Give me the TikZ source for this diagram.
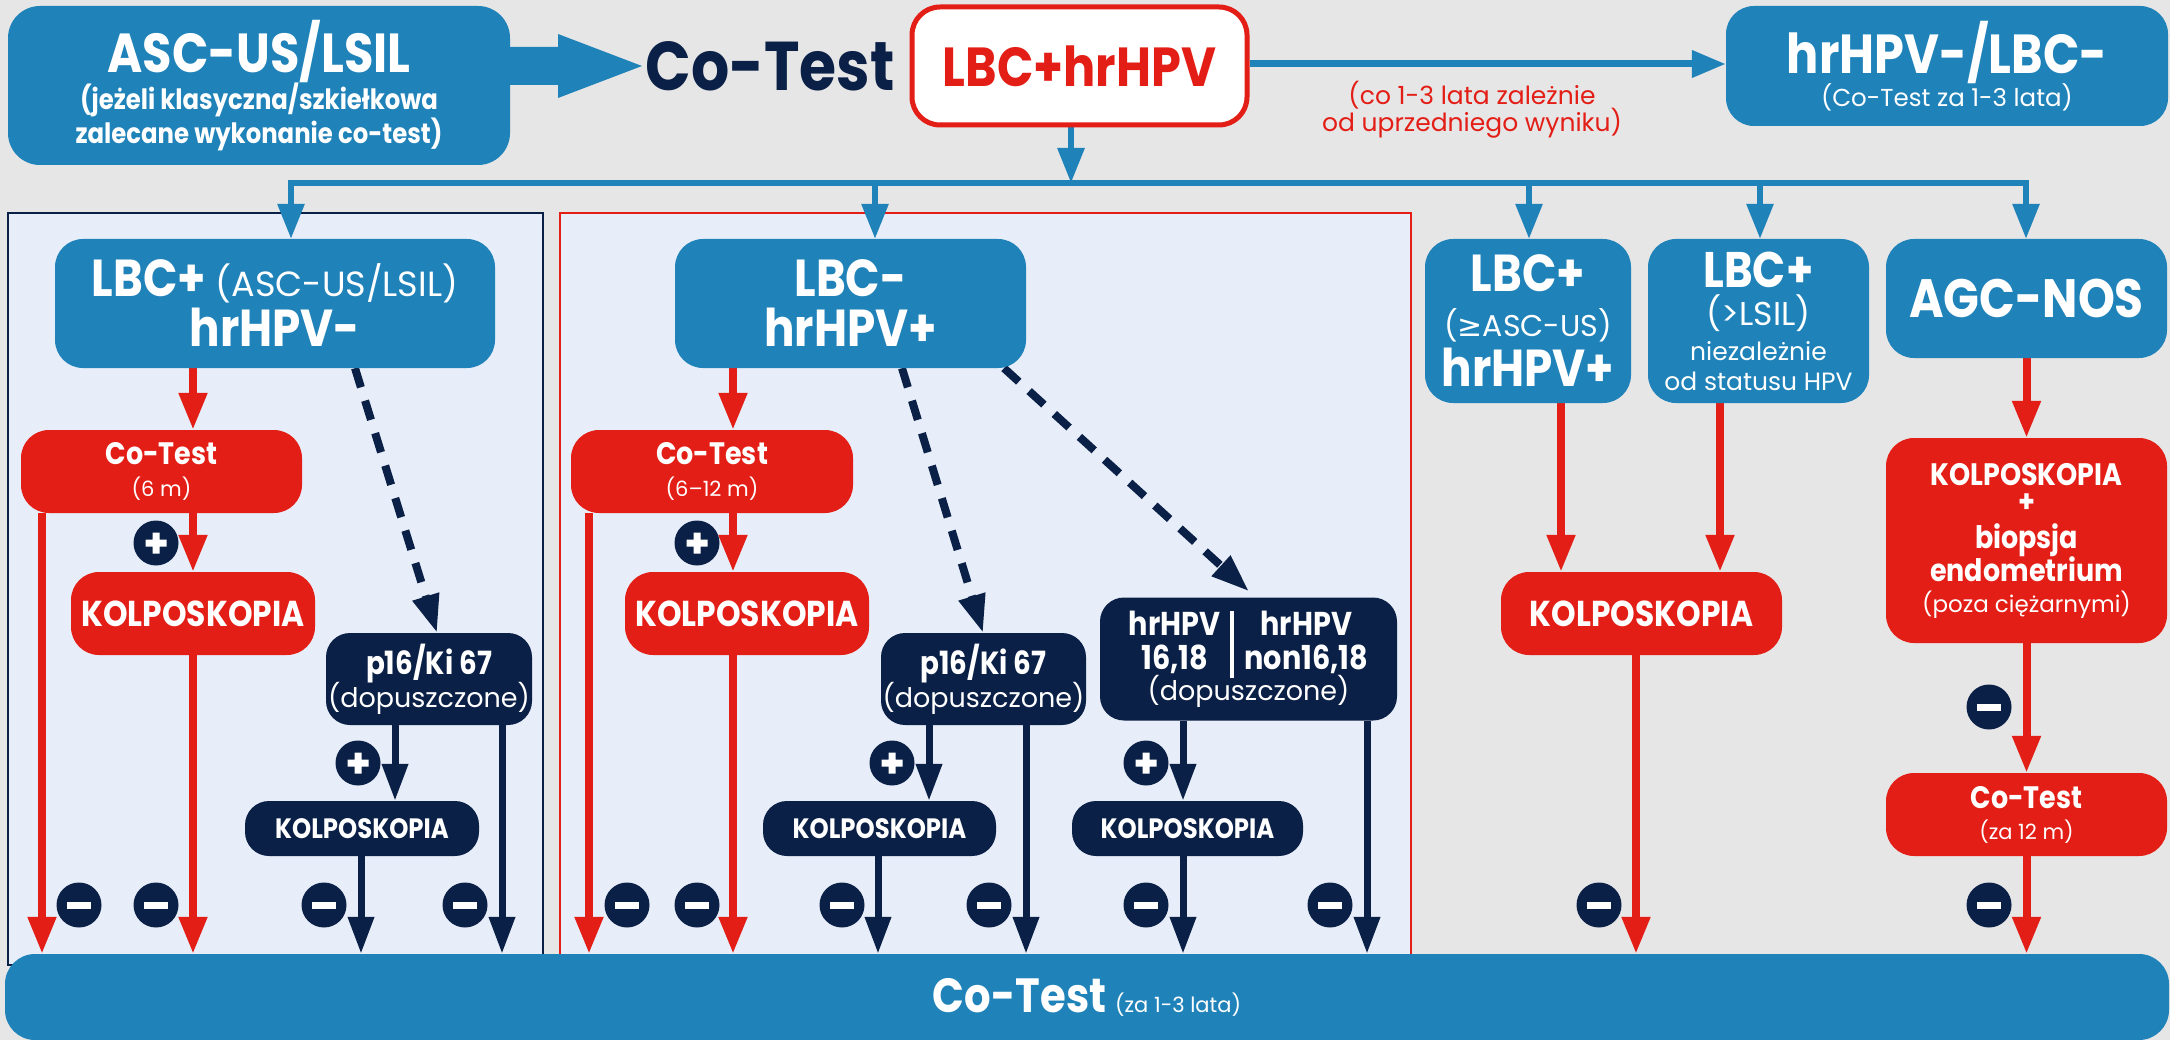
\documentclass[tikz,border=0pt]{standalone}
\usepackage{fontspec}
\setmainfont{Poppins}[FakeStretch=0.87]
\newfontfamily\lightf{Poppins}
\newfontfamily\symf{DejaVu Sans}
\usetikzlibrary{arrows.meta,calc}
\definecolor{cblue}{HTML}{1F82B9}
\definecolor{cred}{HTML}{E31E16}
\definecolor{cnavy}{HTML}{0B2046}
\definecolor{cbg}{HTML}{E6E6E6}
\definecolor{cpanel}{HTML}{E8EEF9}
\newcommand\myfs[2]{\fontsize{#1}{#2}\selectfont}
\newcommand\myl[1]{\lightf\mdseries\fontsize{#1}{#1}\selectfont}
\pgfdeclarelayer{back}
\pgfdeclarelayer{conn}
\pgfsetlayers{back,conn,main}
\begin{document}
\begin{tikzpicture}[x=1pt,y=-1pt,
  sz/.style 2 args={minimum width=#1, minimum height=#2},
  bx/.style={rounded corners=#1, inner sep=0pt, align=center, text=white},
  bx/.default=28pt,
  bluebox/.style={bx, fill=cblue},
  redbox/.style={bx, fill=cred},
  navybox/.style={bx=24pt, fill=cnavy},
  plusc/.style={circle, fill=cnavy, minimum size=45pt, inner sep=0pt,
    path picture={\fill[white] ($(path picture bounding box.center)+(-10.5,-3.5)$) rectangle ($(path picture bounding box.center)+(10.5,3.5)$)
      ($(path picture bounding box.center)+(-3.5,-10.5)$) rectangle ($(path picture bounding box.center)+(3.5,10.5)$);}},
  minusc/.style={circle, fill=cnavy, minimum size=45pt, inner sep=0pt,
    path picture={\fill[white] ($(path picture bounding box.center)+(-12,-3.5)$) rectangle ($(path picture bounding box.center)+(12,3.5)$);}},
  redarr/.style={draw=cred, line width=8pt, -{Triangle[length=37pt,width=27pt]}},
  navyarr/.style={draw=cnavy, line width=7pt, -{Triangle[length=37pt,width=25pt]}},
  bluearr/.style={draw=cblue, line width=6pt, -{Triangle[length=35pt,width=26pt]}},
  dasharr/.style={draw=cnavy, line width=8pt, dash pattern=on 20pt off 14pt, -{Triangle[length=38pt,width=26pt]}}
]
\lineskiplimit=-1000pt\relax
\useasboundingbox (0,0) rectangle (2170,1040);
\begin{pgfonlayer}{back}
  \fill[cbg] (0,0) rectangle (2170,1040);
  \draw[cnavy, line width=2pt, fill=cpanel] (8,213) rectangle (543,965);
  \draw[cred, line width=2pt, fill=cpanel] (560,213) rectangle (1411,965);
\end{pgfonlayer}

% top row
\node[bluebox, bx=32pt, sz={502pt}{159pt}, font=\myfs{10}{34}] (asc) at (259,85.5)
  {\bfseries\myfs{55}{55}ASC-US/LSIL\\[3pt] \bfseries\myfs{28}{28}(jeżeli klasyczna/szkiełkowa\\ \bfseries\myfs{28}{28}zalecane wykonanie co-test)};
\node[text=cnavy, inner sep=0pt, font=\bfseries\myfs{69}{69}] (cotxt) at (770,66) {Co-Test};
\node[bx, fill=white, draw=cred, line width=5pt, sz={335pt}{118pt}, text=cred, font=\bfseries\myfs{55}{55}] (lbchr) at (1079.5,66) {LBC+hrHPV};
\node[bluebox, sz={442pt}{120pt}, font=\myfs{10}{33}] (neg) at (1947,66)
  {\bfseries\myfs{55}{55}hrHPV-/LBC-\\ \myl{24.5}(Co-Test za 1-3 lata)};
\node[text=cred, align=center, inner sep=0pt, font=\myfs{10}{27}] (note) at (1472,110)
  {\myl{25}(co 1-3 lata zależnie\\ \myl{25}od uprzedniego wyniku)};

% left panel
\node[bluebox, sz={440pt}{129pt}, font=\myfs{10}{50}] (b1) at (275,303.5)
  {\bfseries\myfs{52}{52}LBC+ {\myl{35}(ASC-US/LSIL)}\\ \bfseries\myfs{52}{52}hrHPV-};
\node[redbox, sz={281pt}{83pt}, font=\myfs{10}{32}] (c1) at (161.5,471.5)
  {\bfseries\myfs{31}{31}Co-Test\\ \myl{21}(6 m)};
\node[redbox, sz={244pt}{83pt}, font=\bfseries\myfs{36}{36}] (k1) at (193,613.5) {KOLPOSKOPIA};
\node[navybox, sz={206pt}{92pt}, font=\myfs{10}{33}] (p1) at (429,679)
  {\bfseries\myfs{32}{32}p16/Ki 67\\ \myl{27}(dopuszczone)};
\node[navybox, sz={234pt}{55pt}, font=\bfseries\myfs{28}{28}] (nk1) at (362,828.5) {KOLPOSKOPIA};

% middle panel
\node[bluebox, sz={351pt}{129pt}, font=\myfs{10}{50}] (b2) at (850.5,303.5)
  {\bfseries\myfs{52}{52}LBC-\\ \bfseries\myfs{52}{52}hrHPV+};
\node[redbox, sz={282pt}{83pt}, font=\myfs{10}{32}] (c2) at (712,471.5)
  {\bfseries\myfs{31}{31}Co-Test\\ \myl{21}(6–12 m)};
\node[redbox, sz={244pt}{83pt}, font=\bfseries\myfs{36}{36}] (k2) at (747,613.5) {KOLPOSKOPIA};
\node[navybox, sz={205pt}{92pt}, font=\myfs{10}{33}] (p2) at (983.5,679)
  {\bfseries\myfs{32}{32}p16/Ki 67\\ \myl{27}(dopuszczone)};
\node[navybox, sz={297pt}{123pt}, font=\myfs{10}{31}] (h2) at (1248.5,659)
  {\lineskiplimit=0pt\bfseries\myfs{33}{31}\setlength\arrayrulewidth{4pt}\setlength\tabcolsep{12pt}\begin{tabular}[b]{c|c}hrHPV & hrHPV\\ 16,18 & non16,18\end{tabular}\\ \myl{27}(dopuszczone)};
\node[navybox, sz={233pt}{55pt}, font=\bfseries\myfs{28}{28}] (nk2) at (879.5,828.5) {KOLPOSKOPIA};
\node[navybox, sz={231pt}{55pt}, font=\bfseries\myfs{28}{28}] (nk3) at (1187.5,828.5) {KOLPOSKOPIA};

% right part
\node[bluebox, sz={206pt}{164pt}, font=\myfs{10}{45}] (b3) at (1528,321)
  {\bfseries\myfs{52}{52}LBC+\\ \myl{30}({\symf ≥}ASC-US)\\[5pt] \bfseries\myfs{52}{52}hrHPV+};
\node[bluebox, sz={221pt}{164pt}, font=\myfs{10}{35}] (b4) at (1758.5,321)
  {\bfseries\myfs{50}{50}LBC+\\[3pt] \myl{33}(>LSIL)\\ \myl{25}niezależnie\\[-5pt] \myl{25}od statusu HPV};
\node[bluebox, sz={281pt}{119pt}, font=\bfseries\myfs{54}{54}] (b5) at (2026.5,298.5) {AGC-NOS};
\node[redbox, sz={281pt}{83pt}, font=\bfseries\myfs{36}{36}] (k4) at (1641.5,613.5) {KOLPOSKOPIA};
\node[redbox, sz={281pt}{205pt}, font=\myfs{10}{33}] (kb) at (2026.5,540.5)
  {\bfseries\myfs{31}{31}KOLPOSKOPIA\\[-6pt] \bfseries\myfs{31}{31}+\\[3pt] \bfseries\myfs{31}{31}biopsja\\ \bfseries\myfs{31}{31}endometrium\\[-2pt] \myl{23}(poza ciężarnymi)};
\node[redbox, sz={281pt}{83pt}, font=\myfs{10}{31}] (c5) at (2026.5,814.5)
  {\bfseries\myfs{31}{31}Co-Test\\ \myl{21}(za 12 m)};

% bottom bar
\node[bluebox, bx=30pt, sz={2164pt}{86pt}] (bar) at (1087,997)
  {\bfseries\myfs{48}{48}Co-Test {\myl{21}(za 1-3 lata)}};

% column coordinates
\coordinate (busL) at (291,183);
\coordinate (bus2) at (875,183);
\coordinate (bus3) at (1529,183);
\coordinate (bus4) at (1760,183);
\coordinate (busR) at (2026,183);
\coordinate (xv) at (1071,0);
\coordinate (xa) at (193,0);
\coordinate (xb) at (42,0);
\coordinate (xc) at (395,0);
\coordinate (xd) at (361,0);
\coordinate (xe) at (502,0);
\coordinate (xf) at (355,0);
\coordinate (xg) at (437,0);
\coordinate (xh) at (733,0);
\coordinate (xi) at (589,0);
\coordinate (xj) at (929,0);
\coordinate (xk) at (878,0);
\coordinate (xl) at (1026,0);
\coordinate (xm) at (1183,0);
\coordinate (xn) at (1367,0);
\coordinate (xo) at (902,0);
\coordinate (xp) at (983,0);
\coordinate (xq) at (1004,0);
\coordinate (xw) at (1249,0);
\coordinate (xr) at (1561,0);
\coordinate (xs) at (1720,0);
\coordinate (xt) at (1636,0);
\coordinate (bigtip) at (642,66);

\begin{pgfonlayer}{conn}
  % big arrow ASC-US -> Co-Test
  \fill[cblue] (asc.east |- 0,47) -- (558,47) -- (558,34) -- (bigtip) -- (558,98) -- (558,85) -- (asc.east |- 0,85) -- cycle;
  % top arrow to hrHPV-/LBC-
  \draw[draw=cblue, line width=7pt, -{Triangle[length=34pt,width=26pt]}] (lbchr.east |- 0,64) -- (neg.west |- 0,64);
  % bus
  \draw[bluearr] (lbchr.south -| xv) -- (xv |- busL);
  \draw[cblue, line width=6pt, line cap=rect] (busL) -- (busR);
  \draw[bluearr] (busL) -- (busL |- b1.north);
  \draw[bluearr] (bus2) -- (bus2 |- b2.north);
  \draw[bluearr] (bus3) -- (bus3 |- b3.north);
  \draw[bluearr] (bus4) -- (bus4 |- b4.north);
  \draw[bluearr] (busR) -- (busR |- b5.north);
  % left panel
  \draw[redarr] (b1.south -| xa) -- (c1.north -| xa);
  \draw[redarr] (c1.south -| xa) -- (k1.north -| xa);
  \draw[redarr] (k1.south -| xa) -- (bar.north -| xa);
  \draw[redarr] (c1.south -| xb) -- (bar.north -| xb);
  \draw[dasharr] (b1.south -| xf) -- (p1.north -| xg);
  \draw[navyarr] (p1.south -| xc) -- (nk1.north -| xc);
  \draw[navyarr] (nk1.south -| xd) -- (bar.north -| xd);
  \draw[navyarr] (p1.south -| xe) -- (bar.north -| xe);
  % middle panel
  \draw[redarr] (b2.south -| xh) -- (c2.north -| xh);
  \draw[redarr] (c2.south -| xh) -- (k2.north -| xh);
  \draw[redarr] (k2.south -| xh) -- (bar.north -| xh);
  \draw[redarr] (c2.south -| xi) -- (bar.north -| xi);
  \draw[dasharr] (b2.south -| xo) -- (p2.north -| xp);
  \draw[dasharr] (b2.south -| xq) -- ($(h2.north -| xw)+(0,-6)$);
  \draw[navyarr] (p2.south -| xj) -- (nk2.north -| xj);
  \draw[navyarr] (nk2.south -| xk) -- (bar.north -| xk);
  \draw[navyarr] (p2.south -| xl) -- (bar.north -| xl);
  \draw[navyarr] (h2.south -| xm) -- (nk3.north -| xm);
  \draw[navyarr] (nk3.south -| xm) -- (bar.north -| xm);
  \draw[navyarr] (h2.south -| xn) -- (bar.north -| xn);
  % right part
  \draw[redarr] (b3.south -| xr) -- (k4.north -| xr);
  \draw[redarr] (b4.south -| xs) -- (k4.north -| xs);
  \draw[redarr] (k4.south -| xt) -- (bar.north -| xt);
  \draw[redarr] (b5.south) -- (kb.north);
  \draw[redarr] (kb.south) -- (c5.north);
  \draw[redarr] (c5.south) -- (bar.north -| c5.south);
\end{pgfonlayer}

% plus / minus markers
\node[plusc] (pl1) at (156,543) {};
\node[plusc] (pl2) at (358,763) {};
\node[plusc] (pl3) at (697,543) {};
\node[plusc] (pl4) at (892,763) {};
\node[plusc] (pl5) at (1146,763) {};
\node[minusc] (mi1) at (79,905) {};
\node[minusc] (mi2) at (156,905) {};
\node[minusc] (mi3) at (324,905) {};
\node[minusc] (mi4) at (465,905) {};
\node[minusc] (mi5) at (627,905) {};
\node[minusc] (mi6) at (697,905) {};
\node[minusc] (mi7) at (842,905) {};
\node[minusc] (mi8) at (989,905) {};
\node[minusc] (mi9) at (1146,905) {};
\node[minusc] (mi10) at (1330,905) {};
\node[minusc] (mi11) at (1599,905) {};
\node[minusc] (mi12) at (1989,707) {};
\node[minusc] (mi13) at (1989,905) {};
\end{tikzpicture}
\end{document}
